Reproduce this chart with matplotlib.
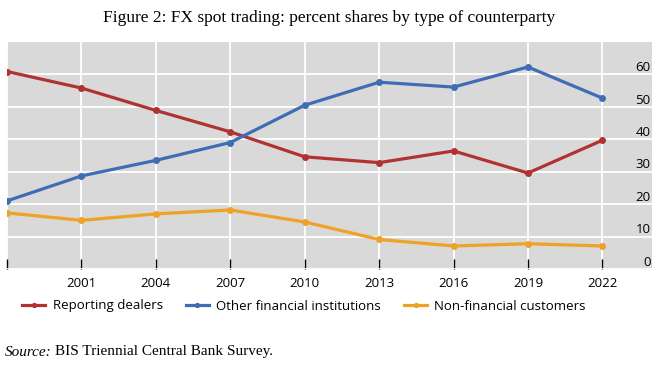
import matplotlib.pyplot as plt
import matplotlib.transforms as mtransforms

years = [1998, 2001, 2004, 2007, 2010, 2013, 2016, 2019, 2022]
reporting = [60.9, 55.8, 48.9, 42.3, 34.6, 32.8, 36.4, 29.6, 39.7]
other_fin = [21.0, 28.7, 33.5, 39.0, 50.5, 57.6, 56.1, 62.3, 52.7]
non_fin = [17.3, 15.0, 17.0, 18.2, 14.5, 9.1, 7.1, 7.8, 7.1]
names = ["Reporting dealers", "Other financial institutions", "Non-financial customers"]
colores = ["#b03232", "#3f6db5", "#eea226"]
yticks = [0, 10, 20, 30, 40, 50, 60]

plt.rcParams['font.family'] = ['Open Sans', 'DejaVu Sans']

fig = plt.figure(figsize=(6.59, 3.66), dpi=100)
ax = fig.add_axes([7/659, 1-269/366, 645/659, 227/366])
ax.set_facecolor("#d9d9d9")

for serie, nombre, c in zip([reporting, other_fin, non_fin], names, colores):
    ax.plot(years, serie, color=c, lw=2.3, marker="o", ms=4, label=nombre)

ax.set_xlim(1998, 2024)
ax.set_ylim(0, 70)
ax.set_xticks(years)
ax.set_xticklabels([""] + [str(y) for y in years[1:]])
ax.set_yticks(yticks)
ax.grid(True, color="white", lw=1.3)
ax.set_axisbelow(True)
for s in ax.spines.values():
    s.set_visible(False)

ax.tick_params(axis="x", direction="in", length=7, width=1, color="black",
               pad=6, labelsize=9.5, colors="black")
ax.yaxis.tick_right()
ax.tick_params(axis="y", length=0, pad=-1, labelsize=9.5)
off = mtransforms.ScaledTranslation(0, 6/72, fig.dpi_scale_trans)
for lbl in ax.get_yticklabels():
    lbl.set_horizontalalignment("right")
    lbl.set_transform(lbl.get_transform() + off)

fig.text(0.5, 1-18/366, "Figure 2: FX spot trading: percent shares by type of counterparty",
         ha="center", va="center", family="Liberation Serif", fontsize=12.5)

fig.legend(loc="center left", bbox_to_anchor=(13/659, 1-306/366), ncol=3, frameon=False,
           fontsize=9.5, handlelength=1.75, handletextpad=0.55, columnspacing=1.75,
           borderaxespad=0.3, markerscale=0.7)

fig.text(5/659, 1-352/366, "Source:", ha="left", va="center", family="Liberation Serif",
         style="italic", fontsize=11)
fig.text(55/659, 1-352/366, "BIS Triennial Central Bank Survey.", ha="left", va="center",
         family="Liberation Serif", fontsize=11)

plt.savefig("out.png", dpi=100)
